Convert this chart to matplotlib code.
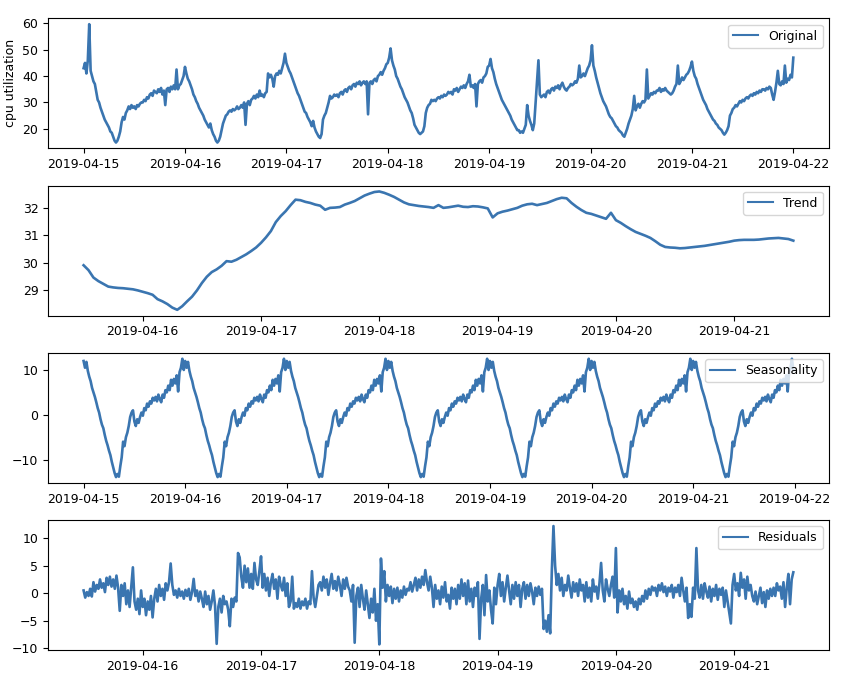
import numpy as np
import pandas as pd
import matplotlib
matplotlib.use("Agg")
import matplotlib.pyplot as plt
import matplotlib.dates as mdates

plt.rcParams["font.size"] = 9

# cpu utilization, every 20 minutes, 2019-04-15 00:00 .. 2019-04-22 00:00
original = [
    # 04-15
    43, 45, 41, 46, 59.7, 42, 40, 38, 37, 34, 31, 30, 28, 26.5, 25, 23.5, 22.5, 21.5,
    20.5, 19, 18.5, 17, 15.5, 14.8, 15.5, 17, 19, 22.5, 24.5, 23.5, 26, 27, 28.5, 27.5, 29, 28,
    28.5, 27.5, 29, 28.5, 29.5, 30, 30, 31, 30.5, 32, 31.5, 33, 33.5, 32.5, 34.5, 34, 33.5, 35,
    34, 35.5, 33, 34.5, 29, 35, 35.5, 34, 36, 35, 36.5, 35, 42.5, 35, 36.5, 37, 38.5, 40,
    # 04-16
    43.5, 41, 39, 38, 36.5, 35, 33, 32, 30.5, 29.5, 28, 27, 26, 25, 23.5, 22.5, 21.5, 20.5,
    22, 19.5, 18, 17, 15.5, 14.8, 15.5, 17, 19.5, 22, 23.5, 25, 25.5, 26.5, 27, 26.5, 27.5, 27,
    27.5, 28.5, 27.5, 28, 29, 28, 30, 21.5, 29.5, 30.5, 29, 31, 31.5, 32.5, 31.5, 33, 32, 34.5,
    32.5, 33, 32, 33.5, 34, 41, 39.5, 40.5, 39, 36, 40, 41, 40.5, 42, 41, 43, 45, 48.5,
    # 04-17
    45, 43.5, 42, 41, 39.5, 38, 36.5, 35, 33.5, 32.5, 31, 29.5, 28, 26.5, 26, 24.5, 23.5, 22.5,
    21, 23, 20.5, 19, 18, 17, 16.5, 18, 23.5, 25, 26, 28, 30, 32.5, 31.5, 32, 33, 32.5,
    33, 32, 33.5, 34, 33, 34.5, 35, 34, 35.5, 36, 35, 36.5, 37, 36, 37.5, 37, 38, 36.5,
    37.5, 38, 37, 38, 25.5, 37.5, 38, 37, 38.5, 39, 38, 40, 40.5, 41.5, 40.5, 42, 43, 44.5,
    # 04-18
    45, 47, 50.5, 46, 44, 42.5, 40, 39, 37.5, 36, 35, 33.5, 32, 31, 30, 28.5, 27, 26,
    24, 21.5, 20.5, 19.5, 18.5, 18, 18.5, 19, 21, 26, 28, 29, 29.5, 31, 30.5, 31, 30.5, 31.5,
    32, 31.5, 32.5, 32, 33, 32.5, 33, 34, 33.5, 34, 33, 35, 34.5, 35.5, 34, 35, 36, 35.5,
    36.5, 35.5, 37, 38, 40.5, 36, 36.5, 35.5, 37, 28.5, 37, 38, 38.5, 37.5, 39.5, 40, 41, 43.5,
    # 04-19
    44, 46.5, 43, 41.5, 39, 37, 35.5, 34, 32.5, 31, 30, 29, 28, 27, 26, 25, 23.5, 22.5,
    21.5, 20.5, 19.5, 19.5, 18.5, 19, 18.5, 20, 21.5, 29, 25, 23, 21.5, 19.5, 22, 30, 37.5, 46,
    33, 32, 32.5, 33, 32, 34, 34.5, 33.5, 35, 35.5, 34.5, 36, 35.5, 36.5, 35, 36.5, 37.5, 36,
    35, 34.5, 35.5, 36, 37, 36.5, 37, 38, 37.5, 39, 44, 39.5, 40, 41, 40, 41.5, 43, 44,
    # 04-20
    46, 51.7, 44, 42, 39.5, 37.5, 35.5, 33.5, 32, 30.5, 29.5, 28.5, 27, 25.5, 24.5, 24, 23, 22,
    21, 20.5, 19.5, 19, 18.5, 17.5, 17, 18.5, 20, 22, 23.5, 25, 27.5, 32.5, 27, 28.5, 29.5, 28,
    29.5, 30.5, 30, 31, 42.5, 31.5, 32.5, 33.5, 33, 34, 33.5, 34.5, 34.5, 35.5, 34, 35, 34.5, 35.5,
    34.5, 34, 33.5, 33, 33.5, 34.5, 36, 37, 44, 37, 38, 39.5, 38.5, 39.5, 40.5, 41, 42, 43.5,
    # 04-21
    45.5, 42, 40, 39, 37, 35.5, 34, 32.5, 31, 30, 29, 27.5, 26.5, 25.5, 24.5, 23.5, 23, 22,
    21.5, 20.5, 20, 19.5, 18.5, 17.8, 18.5, 19.5, 21, 25, 26, 27.5, 28, 29, 28.5, 29.5, 30.5, 30,
    31, 30.5, 31.5, 32, 31.5, 32.5, 33, 32.5, 33.5, 33, 34, 33.5, 34.5, 34, 35, 35, 34.5, 35.5,
    35, 36, 35.5, 33, 31, 34, 37.5, 42, 37, 36.5, 38, 37, 44, 37.5, 39, 38.5, 40.5, 39.5,
    # 04-22 00:00
    47,
]

# hourly trend, 2019-04-15 12:00 .. 2019-04-21 12:00
trend = [
    29.90, 29.72, 29.45, 29.32, 29.22, 29.12, 29.09, 29.07, 29.06, 29.04, 29.02, 28.98,
    28.93, 28.88, 28.82, 28.66, 28.58, 28.48, 28.35, 28.27, 28.40, 28.58, 28.75, 28.98,
    29.25, 29.48, 29.65, 29.75, 29.88, 30.05, 30.03, 30.10, 30.20, 30.30, 30.42, 30.55,
    30.72, 30.92, 31.15, 31.48, 31.70, 31.88, 32.10, 32.30, 32.28, 32.22, 32.18, 32.12,
    32.08, 31.93, 32.00, 32.01, 32.03, 32.12, 32.18, 32.25, 32.35, 32.45, 32.52, 32.58,
    32.60, 32.55, 32.48, 32.40, 32.30, 32.20, 32.13, 32.10, 32.07, 32.05, 32.03, 32.00,
    32.10, 32.00, 32.02, 32.05, 32.08, 32.04, 32.03, 32.06, 32.05, 32.02, 31.98, 31.65,
    31.80, 31.86, 31.90, 31.95, 32.00, 32.08, 32.13, 32.15, 32.10, 32.14, 32.18, 32.25,
    32.32, 32.37, 32.35, 32.18, 32.04, 31.92, 31.82, 31.78, 31.72, 31.66, 31.60, 31.82,
    31.55, 31.45, 31.33, 31.22, 31.12, 31.05, 30.98, 30.90, 30.78, 30.65, 30.57, 30.55,
    30.54, 30.52, 30.53, 30.55, 30.57, 30.59, 30.61, 30.64, 30.67, 30.70, 30.73, 30.76,
    30.80, 30.82, 30.83, 30.83, 30.83, 30.84, 30.86, 30.88, 30.89, 30.90, 30.88, 30.86,
    30.80,
]

# one day of the seasonal component, every 20 minutes from 00:00
season_day = [
    12.0, 10.5, 11.8, 9.8, 8.5, 7.5, 6.0, 5.0, 4.0, 2.8, 1.5, 0.5,
    -1.0, -2.2, -3.0, -4.5, -5.8, -6.8, -8.0, -9.0, -10.5, -11.8, -13.0, -13.9,
    -13.2, -13.8, -11.5, -9.5, -6.0, -7.0, -5.0, -4.0, -2.5, -0.5, 0.5, 1.0,
    -1.5, -2.5, -1.0, -1.8, -0.5, 0.5, -0.2, 1.5, 1.0, 2.5, 1.8, 3.0,
    2.5, 3.8, 3.2, 4.0, 3.0, 4.5, 3.5, 2.8, 4.5, 3.8, 5.5, 5.0,
    6.5, 5.5, 7.8, 6.5, 8.0, 7.0, 8.8, 5.2, 9.5, 10.5, 12.5, 10.0,
]
n_days = 7

# residuals, every 20 minutes, 2019-04-15 12:00 .. 2019-04-21 12:00
residuals = [
    # 04-15 12h..23h
    0.5, -0.8, 0.2, -0.5, 0.8, -0.6, 2.0, 0.3, 1.5, 0.8, 2.5, 1.0,
    1.8, 0.2, 2.8, 1.5, 3.0, 1.2, 2.5, 0.8, 3.2, 1.0, -3.2, 1.5,
    -0.5, 1.8, -2.0, 0.5, -2.5, 1.2, 4.7, -1.5, -3.0, -1.0, -3.8, 0.5,
    # 04-16
    -2.5, -1.0, -4.0, -1.5, -3.0, -0.5, -4.4, -1.0, 0.8, -1.5, 1.5, -0.5,
    0.8, -1.2, 1.8, 0.5, 2.0, 5.4, 1.5, -0.3, 0.5, -0.8, 0.8, -0.5,
    0.3, -1.0, 0.6, -0.5, 0.8, -1.2, 0.2, 2.6, -0.5, 0.5, -1.5, 0.3,
    -1.0, -2.5, 0.3, -2.0, -0.5, -3.0, -1.5, 0.5, -2.2, -9.2, -2.5, -1.0,
    -3.5, -0.5, -2.0, -1.5, -3.0, -6.0, -1.0, -2.5, -0.8, -1.5, 7.3, 6.5,
    3.0, 1.0, 5.0, 2.0, 4.5, 1.0, 3.5, 0.8, 5.5, 2.5, 1.5, 4.0,
    # 04-17
    6.7, 1.0, 3.5, 0.5, 2.8, -0.5, 2.0, 3.5, 0.8, 2.5, -1.0, 3.0,
    1.5, 0.5, 2.8, -0.5, 1.8, -2.5, -1.5, 3.0, -2.8, -1.8, -2.5, -1.0,
    -2.8, -1.5, -2.2, -1.0, -2.8, -1.5, -2.0, 4.0, -0.8, -2.5, -0.5, 1.5,
    2.0, 0.5, 3.0, 1.0, 2.5, -0.3, 1.8, 3.5, 0.8, 2.2, 0.5, 3.0,
    1.5, -0.5, 2.5, 0.8, 2.8, 1.2, 0.5, -1.5, 1.5, -9.0, -0.5, 1.0,
    -2.5, 1.5, -1.0, -3.0, 0.5, -2.0, -4.5, -1.0, -3.5, 0.8, -5.0, -2.0,
    # 04-18
    -9.3, 6.3, 1.0, 4.0, -1.5, 1.5, -0.5, 1.2, -1.8, 0.8, -1.0, 1.0,
    -1.5, 0.5, -0.8, 1.2, -0.3, 0.8, 0.5, 2.0, 0.3, 1.5, 2.8, 0.5,
    2.5, 1.0, 3.0, 1.5, 4.2, 2.0, 0.5, 3.0, 1.0, -2.5, 1.5, -1.0,
    0.5, -2.0, 1.2, -0.8, 2.0, -1.5, -0.3, -2.8, 1.0, -1.0, 0.8, -2.0,
    1.5, -1.0, 2.5, -0.5, 1.8, -2.0, 2.3, -1.5, 0.8, -2.5, 1.0, -0.5,
    2.0, -8.3, -1.0, 1.5, -4.0, 3.3, -1.5, 0.5, -3.0, -5.5, 1.0, -2.0,
    # 04-19
    1.5, 3.5, -0.5, 2.0, -1.5, 1.0, 3.2, 0.5, -2.0, 1.5, -1.0, 2.0,
    -0.5, 1.5, -2.5, 0.8, 2.0, -1.0, 1.5, -0.5, 1.8, 0.3, -2.0, 1.0,
    -0.5, 1.2, -0.3, 0.8, -6.5, -5.0, -7.0, -4.0, -7.3, 4.0, 12.2, 5.0,
    1.5, 3.5, 0.5, 2.8, -0.5, 1.5, 0.5, 3.2, 1.0, -0.8, 2.0, 0.3,
    1.8, -0.5, 2.5, 0.5, 1.5, -1.5, 2.0, -0.8, 1.0, -1.5, 2.5, 0.3,
    1.2, -1.0, 1.8, 5.5, 0.5, -1.5, 2.5, 0.8, -0.5, 1.5, 3.0, -0.8,
    # 04-20
    8.2, -3.5, 0.5, -1.5, 0.8, -2.0, -0.5, -2.8, 0.3, -1.8, -1.0, -2.5,
    -1.5, -3.0, -1.0, -2.0, -0.5, -1.5, 0.5, -1.0, 0.8, -0.3, 1.2, 0.5,
    1.0, -0.5, 1.5, 0.5, 1.8, 0.2, 1.2, -0.5, 1.0, 0.3, 1.5, -0.8,
    1.0, 0.2, 1.5, -0.5, 2.8, 0.5, -1.5, 1.0, -4.5, -2.0, -4.3, 1.0,
    -1.0, 8.2, 0.5, -0.8, 1.5, -1.0, 1.8, 0.3, -0.8, 1.2, -1.5, 0.8,
    -0.5, 1.5, -1.2, 0.8, -0.3, 1.0, -2.5, 0.5, -1.5, -3.5, -5.5, 1.5,
    # 04-21 0h..11h
    3.5, 0.5, 1.8, -0.5, 3.7, 1.0, 2.5, -1.0, 3.0, 0.5, 1.5, -0.5,
    -1.5, 0.3, -2.0, -0.5, 1.0, -1.8, 0.2, -2.5, 0.5, -1.0, 0.8, -0.5,
    1.0, -0.5, 1.8, 0.5, 1.2, -1.0, 2.0, -2.5, 1.0, 3.5, -2.0, 2.5,
    3.8,
]

t_orig = pd.date_range("2019-04-15 00:00", periods=len(original), freq="20min")
t_trend = pd.date_range("2019-04-15 12:00", periods=len(trend), freq="1h")
seasonality = np.tile(season_day, n_days)
t_season = pd.date_range("2019-04-15 00:00", periods=len(seasonality), freq="20min")
t_resid = pd.date_range("2019-04-15 12:00", periods=len(residuals), freq="20min")

color = "#3a75b0"
fig, axes = plt.subplots(4, 1, figsize=(8.44, 6.76), dpi=100)
fig.subplots_adjust(left=0.057, right=0.982, top=0.973, bottom=0.038, hspace=0.285)

series = [
    (t_orig, original, "Original"),
    (t_trend, trend, "Trend"),
    (t_season, seasonality, "Seasonality"),
    (t_resid, residuals, "Residuals"),
]
for ax, (t, y, name) in zip(axes, series):
    ax.plot(t, y, color=color, linewidth=1.9, label=name)
    leg = ax.legend(loc="upper right")
    for line in leg.get_lines():
        line.set_linewidth(1.5)
    ax.xaxis.set_major_locator(mdates.DayLocator())
    ax.xaxis.set_major_formatter(mdates.DateFormatter("%Y-%m-%d"))

axes[0].set_ylabel("cpu utilization")
axes[1].set_yticks([29, 30, 31, 32])
axes[3].set_yticks([-10, -5, 0, 5, 10])

fig.savefig("out.png", dpi=100)
